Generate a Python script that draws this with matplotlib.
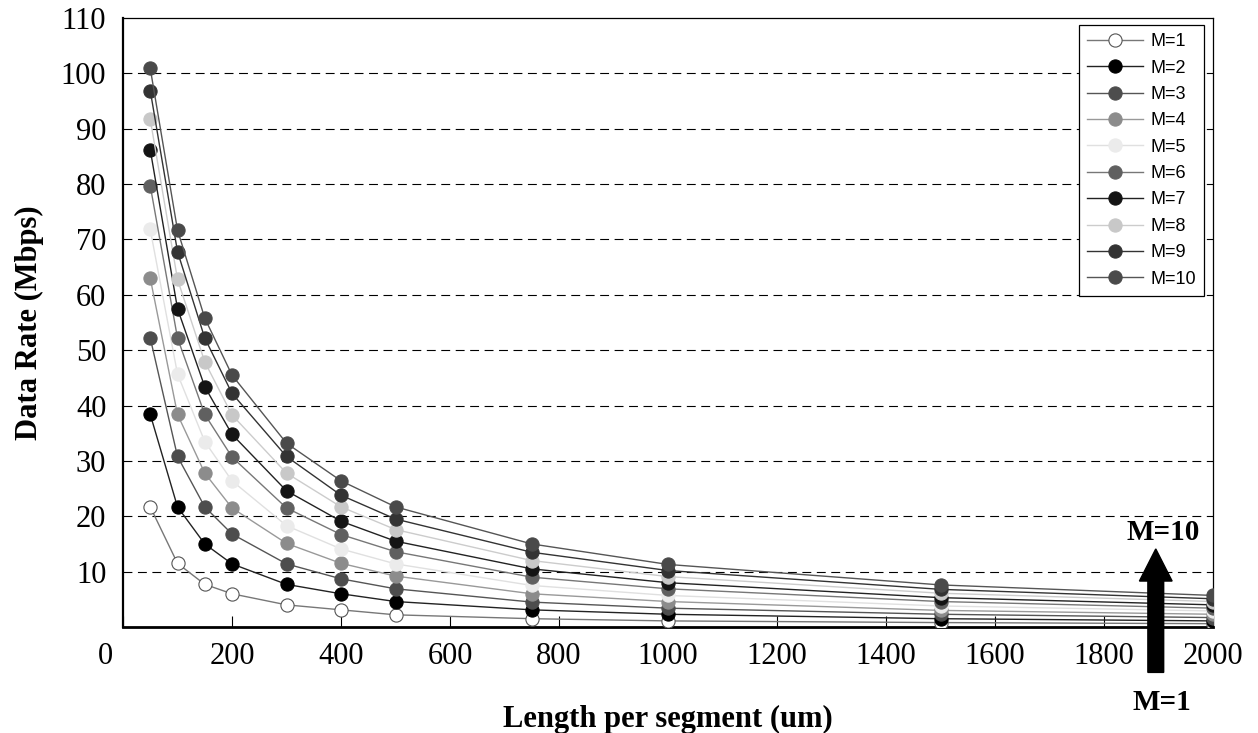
import numpy as np
import matplotlib
matplotlib.use("Agg")
import matplotlib.pyplot as plt
from matplotlib.transforms import ScaledTranslation

plt.rcParams['font.family'] = ['Liberation Serif', 'DejaVu Serif']

# segment lengths (um)
lengths = [50, 100, 150, 200, 300, 400, 500, 750, 1000, 1500, 2000]

# data rate (Mbps) per M
m1 = [21.7, 11.5, 7.7, 6.0, 4.0, 3.1, 2.2, 1.5, 1.1, 0.8, 0.6]
m2 = [38.4, 21.7, 15.0, 11.4, 7.7, 6.0, 4.6, 3.1, 2.3, 1.5, 1.1]
m3 = [52.2, 30.8, 21.7, 16.8, 11.4, 8.7, 6.9, 4.5, 3.4, 2.3, 1.7]
m4 = [63.0, 38.4, 27.8, 21.5, 15.1, 11.5, 9.2, 6.0, 4.6, 3.0, 2.3]
m5 = [71.8, 45.7, 33.5, 26.4, 18.3, 14.1, 11.4, 7.5, 5.7, 3.8, 2.9]
m6 = [79.7, 52.2, 38.4, 30.7, 21.5, 16.7, 13.6, 9.0, 6.9, 4.6, 3.4]
m7 = [86.2, 57.5, 43.4, 34.8, 24.6, 19.1, 15.5, 10.5, 8.0, 5.3, 4.0]
m8 = [91.7, 62.8, 47.9, 38.3, 27.8, 21.7, 17.6, 12.0, 9.1, 6.1, 4.6]
m9 = [96.9, 67.8, 52.2, 42.2, 30.8, 23.8, 19.5, 13.5, 10.2, 6.8, 5.1]
m10 = [100.9, 71.7, 55.8, 45.5, 33.2, 26.4, 21.7, 15.0, 11.3, 7.6, 5.7]

series = [m1, m2, m3, m4, m5, m6, m7, m8, m9, m10]
labels = ["M=%d" % (i + 1) for i in range(10)]

# grey shades (marker face, line)
faces = ["white", "#000000", "#4d4d4d", "#8c8c8c", "#ebebeb",
         "#606060", "#141414", "#c8c8c8", "#333333", "#4a4a4a"]
lines = ["#777777", "#222222", "#555555", "#999999", "#e0e0e0",
         "#777777", "#222222", "#cccccc", "#333333", "#555555"]

fig = plt.figure(figsize=(12.58, 7.33), dpi=100)
ax = fig.add_axes([123/1258, 1 - 627/733, (1213 - 123)/1258, (627 - 18)/733])

for i, ys in enumerate(series):
    edge = "#555555" if i == 0 else faces[i]
    ax.plot(lengths, ys, color=lines[i], lw=1.0, marker="o", ms=9.5,
            mfc=faces[i], mec=edge, mew=0.8, label=labels[i], zorder=3 + i)

ax.set_xlim(0, 2000)
ax.set_ylim(0, 110)
ax.set_xticks(np.arange(0, 2001, 200))
ax.set_yticks(np.arange(10, 111, 10))

# dashed horizontal grid
for yv in range(10, 101, 10):
    ax.axhline(yv, color="black", lw=0.8, dashes=(8, 5), zorder=1)

ax.tick_params(axis="x", direction="in", length=8, width=0.8, pad=11, labelsize=22)
ax.tick_params(axis="y", direction="in", length=0, pad=12, labelsize=22)

# the "0" label sits a bit left of the corner
lbl0 = ax.get_xticklabels()[0]
lbl0.set_transform(lbl0.get_transform() + ScaledTranslation(-18/100, 0, fig.dpi_scale_trans))

ax.spines["left"].set_linewidth(1.6)
ax.spines["bottom"].set_linewidth(2.0)
ax.spines["top"].set_linewidth(0.9)
ax.spines["right"].set_linewidth(0.9)

ax.set_xlabel("Length per segment (um)", fontsize=22, fontweight="bold", labelpad=24)
ax.set_ylabel("Data Rate (Mbps)", fontsize=22, fontweight="bold", labelpad=12)

leg = ax.legend(loc="upper right", bbox_to_anchor=(1204/1258, 1 - 25/733),
                bbox_transform=fig.transFigure, borderaxespad=0,
                prop={"family": "Liberation Sans", "size": 13},
                handlelength=3.1, handletextpad=0.4, labelspacing=0.52,
                borderpad=0.45, fancybox=False, framealpha=1, edgecolor="black")
leg.get_frame().set_linewidth(0.9)
leg.set_zorder(20)

# arrow from M=1 up to M=10
ax.arrow(1895, -8.2, 0, 22.3, width=29, head_width=60, head_length=5.8,
         length_includes_head=True, color="black", clip_on=False, zorder=15)
fig.text(1163/1258, 1 - 533/733, "M=10", fontsize=21, fontweight="bold",
         ha="center", va="center")
fig.text(1162/1258, 1 - 702/733, "M=1", fontsize=21, fontweight="bold",
         ha="center", va="center")

fig.savefig("out.png", dpi=100)
